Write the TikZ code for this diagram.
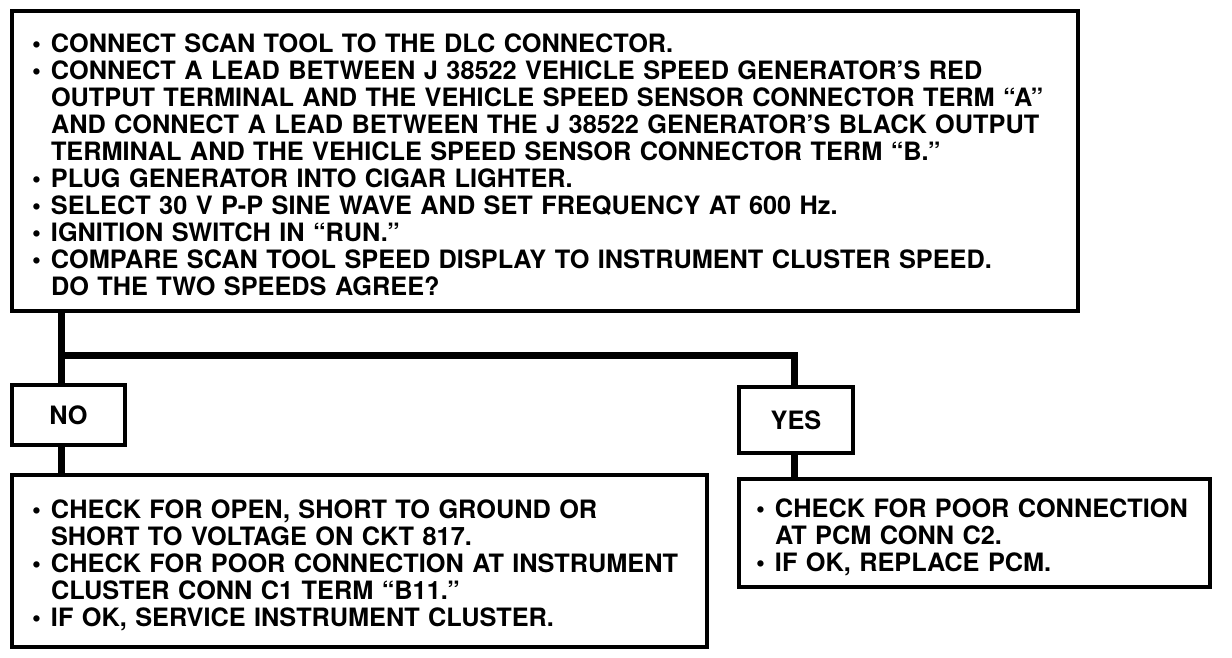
\documentclass[tikz,border=0pt]{standalone}
\usepackage{fontspec}
\setmainfont{TeX Gyre Heros}
\usepackage{tikz}
\setlength{\parskip}{0pt}
\newcommand{\bul}{\par\hangindent=19pt\hangafter=1\noindent\makebox[19pt][l]{\textbullet}}

\begin{document}
\begin{tikzpicture}[x=1pt, y=1pt,
  box/.style={draw, line width=3.5pt, inner xsep=20pt, inner ysep=0pt, align=left,
    font=\fontsize{25.3}{27}\selectfont\bfseries},
  conn/.style={line width=7pt}]
\useasboundingbox (0,0) rectangle (1232,658);
\node[box, text width=1026pt, minimum width=1066pt, minimum height=300pt] (scan) at (545,497) {%
\bul CONNECT SCAN TOOL TO THE DLC CONNECTOR.
\bul CONNECT A LEAD BETWEEN J 38522 VEHICLE SPEED GENERATOR'S RED\newline
OUTPUT TERMINAL AND THE VEHICLE SPEED SENSOR CONNECTOR TERM ``A''\newline
AND CONNECT A LEAD BETWEEN THE J 38522 GENERATOR'S BLACK OUTPUT\newline
TERMINAL AND THE VEHICLE SPEED SENSOR CONNECTOR TERM ``B.''
\bul PLUG GENERATOR INTO CIGAR LIGHTER.
\bul SELECT 30 V P-P SINE WAVE AND SET FREQUENCY AT 600 Hz.
\bul IGNITION SWITCH IN ``RUN.''
\bul COMPARE SCAN TOOL SPEED DISPLAY TO INSTRUMENT CLUSTER SPEED.\newline
DO THE TWO SPEEDS AGREE?\par};
\node[box, align=center, inner xsep=0pt, minimum width=113pt, minimum height=60pt] (no) at (68.5,243) {NO};
\node[box, align=center, inner xsep=0pt, minimum width=114pt, minimum height=66pt] (yes) at (796,238) {YES};
\node[box, text width=655pt, minimum width=695pt, minimum height=172pt] (openchk) at (359.5,97) {%
\bul CHECK FOR OPEN, SHORT TO GROUND OR\newline
SHORT TO VOLTAGE ON CKT 817.
\bul CHECK FOR POOR CONNECTION AT INSTRUMENT\newline
CLUSTER CONN C1 TERM ``B11.''
\bul IF OK, SERVICE INSTRUMENT CLUSTER.\par};
\node[box, inner xsep=17pt, text width=437pt, minimum width=471pt, minimum height=108pt] (pcmchk) at (974.5,125) {%
\bul CHECK FOR POOR CONNECTION\newline
AT PCM CONN C2.
\bul IF OK, REPLACE PCM.\par};
\coordinate (forkL) at (61,302);
\coordinate (forkR) at (794,302);
\draw[conn] (forkL |- scan.south) -- (forkL |- no.north);
\draw[conn] (forkL) -- (forkR) -- (forkR |- yes.north);
\draw[conn] (forkL |- no.south) -- (forkL |- openchk.north);
\draw[conn] (forkR |- yes.south) -- (forkR |- pcmchk.north);
\end{tikzpicture}
\end{document}
